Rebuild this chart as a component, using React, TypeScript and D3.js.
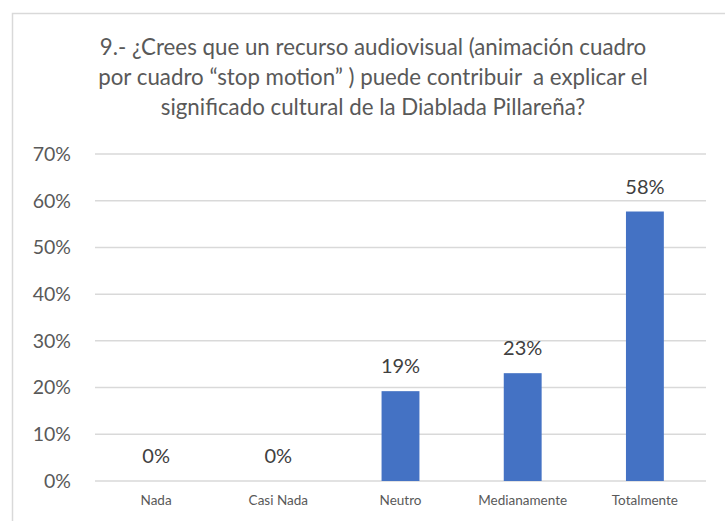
import React from "react";
import * as d3 from "d3";

const categories = ["Nada", "Casi Nada", "Neutro", "Medianamente", "Totalmente"];
const values = [0, 0, 19.23, 23.08, 57.69];
const yTicks = [0, 10, 20, 30, 40, 50, 60, 70];
const titleLines = [
  "9.- ¿Crees que un recurso audiovisual (animación cuadro",
  "por cuadro “stop motion” ) puede contribuir  a explicar el",
  "significado cultural de la Diablada Pillareña?",
];

export default function App() {
  const W = 725, H = 521;
  const left = 95, right = 706, top = 154, bottom = 481;
  const x = d3.scaleBand<string>().domain(categories).range([left, right]).padding(0);
  const y = d3.scaleLinear().domain([0, 70]).range([bottom, top]);
  const barW = x.bandwidth() * 0.31;
  const font = "Lato, 'Open Sans', sans-serif";
  return (
    <svg width={W} height={H} style={{ position: "absolute", left: 0, top: 0, background: "#fff" }} fontFamily={font}>
      <rect x={12.5} y={13.5} width={800} height={600} fill="#fff" stroke="#d9d9d9" strokeWidth={1.5} />
      {titleLines.map((t, i) => (
        <text key={i} x={373} y={55 + i * 30} textAnchor="middle" fontSize={22.3} fill="#595959" style={{ whiteSpace: "pre" }}>{t}</text>
      ))}
      {yTicks.map((t) => (
        <g key={t}>
          <line x1={left} x2={right} y1={y(t)} y2={y(t)} stroke="#d9d9d9" strokeWidth={1.5} />
          <text x={71} y={y(t)} dy="0.35em" textAnchor="end" fontSize={19.5} fill="#595959">{t}%</text>
        </g>
      ))}
      {categories.map((c, i) => {
        const cx = (x(c) as number) + x.bandwidth() / 2;
        return (
          <g key={c}>
            {values[i] > 0 && (
              <rect x={cx - barW / 2} y={y(values[i])} width={barW} height={bottom - y(values[i])} fill="#4472C4" />
            )}
            <text x={cx} y={y(values[i]) - 18} textAnchor="middle" fontSize={20} fill="#404040">
              {Math.round(values[i])}%
            </text>
            <text x={cx} y={500} dy="0.35em" textAnchor="middle" fontSize={13.5} fill="#595959">{c}</text>
          </g>
        );
      })}
    </svg>
  );
}
